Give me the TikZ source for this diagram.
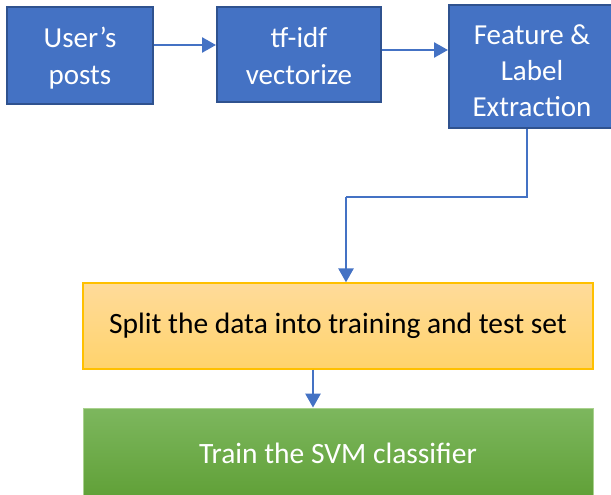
\documentclass[tikz,border=0pt]{standalone}
\usepackage{fontspec}
\setmainfont{Carlito}
\usetikzlibrary{arrows.meta}
\definecolor{stepblue}{HTML}{4472C4}
\definecolor{stepblueedge}{HTML}{2F528F}
\definecolor{goldtop}{HTML}{FFDB9A}
\definecolor{goldbot}{HTML}{FFD36C}
\definecolor{goldedge}{HTML}{FFC000}
\definecolor{greentop}{HTML}{7DB75E}
\definecolor{greenbot}{HTML}{60A037}
\definecolor{greenedge}{HTML}{A9D18E}
\tikzset{
  bluebox/.style={draw=stepblueedge, line width=2pt, fill=stepblue, inner sep=0pt},
  bluetext/.style={text=white, align=center, inner sep=0pt,
    font=\fontsize{29}{37.5}\selectfont},
  goldbox/.style={draw=goldedge, line width=1.3pt, top color=goldtop, bottom color=goldbot,
    text=black, inner sep=0pt, font=\fontsize{29.5}{34}\selectfont},
  greenbox/.style={draw=greenedge, line width=0.8pt, top color=greentop, bottom color=greenbot,
    text=white, inner sep=0pt, font=\fontsize{29.5}{34}\selectfont},
  flow/.style={draw=stepblue, line width=2.6pt,
    -{Triangle[length=14pt,width=15pt]}},
  thinflow/.style={draw=stepblue, line width=1.4pt}
}
\begin{document}
\begin{tikzpicture}[x=1pt,y=-1pt]
  \useasboundingbox (0,0) rectangle (611,495);
  % top row: boxes, then their captions
  \node[bluebox, minimum width=146pt, minimum height=97pt] (posts) at (80,55.5) {};
  \node[bluebox, minimum width=164pt, minimum height=95pt] (tfidf) at (299,54.5) {};
  \node[bluebox, minimum width=166pt, minimum height=123pt] (feat) at (532,66.5) {};
  \node[bluetext] (postsText) at ([yshift=-2.5pt]posts.center) {User’s\\posts};
  \node[bluetext] (tfidfText) at ([yshift=-1.5pt]tfidf.center) {tf-idf\\vectorize};
  \node[bluetext, font=\fontsize{29}{36}\selectfont] (featText) at ([yshift=-4pt]feat.center)
    {Feature \&\\Label\\Extraction};
  % lower stages
  \node[goldbox, minimum width=510pt, minimum height=86pt] (split) at (338,326)
    {Split the data into training and test set};
  \node[greenbox, minimum width=510pt, minimum height=90pt] (svm) at (338,453)
    {Train the SVM classifier};
  % connectors
  \coordinate (bend) at (346,197);
  \draw[flow] (posts.east |- 0,45) -- (tfidf.west |- 0,45);
  \draw[flow] (tfidf.east |- 0,50) -- (feat.west |- 0,50);
  \draw[thinflow] (527,0 |- feat.south) -- (527,197) -- (bend);
  \draw[flow] (bend) -- (bend |- split.north);
  \draw[flow] (313,0 |- split.south) -- (313,0 |- svm.north);
\end{tikzpicture}
\end{document}
